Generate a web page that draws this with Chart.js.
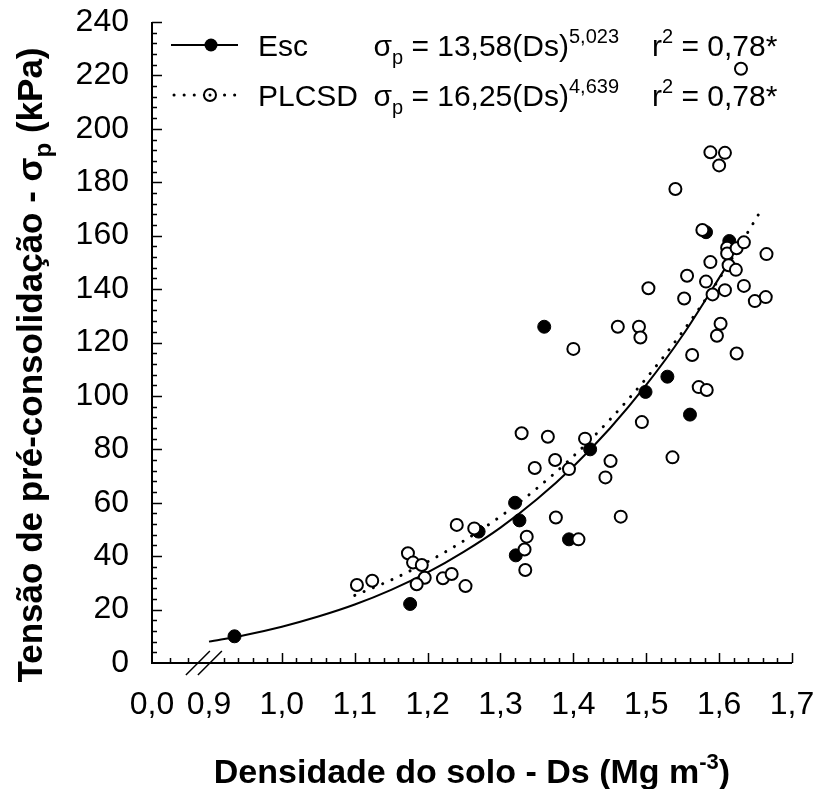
<!DOCTYPE html>
<html><head><meta charset="utf-8">
<script src="https://cdn.jsdelivr.net/npm/chart.js@4.4.1/dist/chart.umd.min.js"></script>
<style>html,body{margin:0;padding:0;background:#fff}</style>
</head><body>
<canvas id="c" width="819" height="789"></canvas>
<script>
const FONT = '"Liberation Sans", Arial, Helvetica, sans-serif';

// ---- Esc (filled circles) ----
const escDs = [0.935, 1.176, 1.270, 1.320, 1.326, 1.321, 1.360, 1.394, 1.423, 1.499, 1.529, 1.560, 1.582, 1.614];
const escSp = [10.0, 22.1, 49.2, 60.0, 53.4, 40.3, 125.9, 46.3, 80.0, 101.5, 107.2, 93.0, 161.3, 158.0];

// ---- PLCSD (open circles) ----
const plcDs = [1.103, 1.124, 1.173, 1.180, 1.192, 1.196, 1.185, 1.221, 1.233, 1.240, 1.252, 1.264,
  1.329, 1.334, 1.333, 1.336, 1.347, 1.365, 1.375, 1.376, 1.394, 1.400, 1.407, 1.416, 1.444, 1.451,
  1.461, 1.465, 1.490, 1.492, 1.494, 1.503, 1.536, 1.540, 1.552, 1.556, 1.563, 1.572, 1.577, 1.583,
  1.582, 1.588, 1.588, 1.591, 1.597, 1.600, 1.602, 1.608, 1.608, 1.611, 1.611, 1.613, 1.623, 1.624,
  1.624, 1.634, 1.634, 1.649, 1.665, 1.664, 1.630];
const plcSp = [29.2, 30.8, 41.1, 37.6, 36.7, 31.9, 29.5, 31.7, 33.3, 51.7, 28.8, 50.4,
  86.0, 34.8, 42.5, 47.3, 73.0, 84.7, 76.0, 54.5, 72.6, 117.6, 46.3, 84.0, 69.5, 75.6,
  125.9, 54.8, 125.9, 121.9, 90.2, 140.3, 77.0, 177.5, 136.5, 145.0, 115.3, 103.3, 162.1, 102.2,
  142.8, 191.2, 150.1, 138.0, 122.5, 186.3, 127.0, 191.0, 139.6, 155.5, 153.3, 148.9, 147.2, 155.3,
  115.9, 157.5, 141.2, 135.5, 153.1, 137.0, 222.5];

// ---- fitted curves ----
const escCurveDs = [0.90, 0.95, 1.00, 1.05, 1.10, 1.15, 1.20, 1.25, 1.30, 1.35, 1.40, 1.45, 1.50, 1.55, 1.61];
const escCurveSp = [8.0, 10.5, 13.6, 17.4, 21.9, 27.4, 33.9, 41.7, 50.7, 61.3, 73.6, 87.8, 104.1, 122.7, 148.5];
const plcCurveDs = [1.10, 1.15, 1.20, 1.25, 1.30, 1.35, 1.40, 1.45, 1.50, 1.55, 1.60, 1.66];
const plcCurveSp = [25.3, 31.1, 37.9, 45.8, 54.9, 65.4, 77.4, 91.1, 106.6, 124.1, 143.8, 170.6];

// ---- axes ----
const xAxisStart = 0.8218;          // broken axis: origin labelled 0,0
const xStartLabel = '0,0';
const xTickValues = [0.9, 1.0, 1.1, 1.2, 1.3, 1.4, 1.5, 1.6, 1.7];
const xTickLabels = ['0,9', '1,0', '1,1', '1,2', '1,3', '1,4', '1,5', '1,6', '1,7'];
const xMinorStep = 0.02;
const xBreakTicks = [0.8465, 0.8712];
const xBreakAt = 0.893;
const yTickValues = [0, 20, 40, 60, 80, 100, 120, 140, 160, 180, 200, 220, 240];
const yMinorStep = 4;

const legendRows = [
  {name: 'Esc', coef: '13,58', exp: '5,023', r2: '0,78*'},
  {name: 'PLCSD', coef: '16,25', exp: '4,639', r2: '0,78*'}
];

function pts(xs, ys) { return xs.map((x, i) => ({x: x, y: ys[i]})); }

function rich(ctx, segs, x, y, align, base, bold, small) {
  const w = bold ? 'bold ' : '';
  const info = segs.map(s => {
    const size = s.k === 'n' ? base : (small || Math.round(base * 0.68));
    const dy = s.k === 'sub' ? base * 0.26 : (s.k === 'sup' ? -base * 0.42 : 0);
    ctx.font = w + size + 'px ' + FONT;
    return {t: s.t, size: size, dy: dy, width: ctx.measureText(s.t).width};
  });
  const total = info.reduce((a, b) => a + b.width, 0);
  let cx = align === 'center' ? x - total / 2 : (align === 'right' ? x - total : x);
  ctx.textAlign = 'left';
  ctx.textBaseline = 'alphabetic';
  for (const s of info) {
    ctx.font = w + s.size + 'px ' + FONT;
    ctx.fillText(s.t, cx, y + s.dy);
    cx += s.width;
  }
  return total;
}

const decor = {
  id: 'decor',
  afterDraw(chart) {
    const ctx = chart.ctx, xs = chart.scales.x, ys = chart.scales.y;
    const x0 = xs.getPixelForValue(xAxisStart), y0 = ys.getPixelForValue(0);
    const xEnd = xs.getPixelForValue(xTickValues[xTickValues.length - 1]);
    const yTop = ys.getPixelForValue(yTickValues[yTickValues.length - 1]);
    ctx.save();
    ctx.strokeStyle = '#000'; ctx.fillStyle = '#000';
    // axis lines
    ctx.lineWidth = 2;
    ctx.beginPath();
    ctx.moveTo(x0, yTop); ctx.lineTo(x0, y0); ctx.lineTo(xEnd, y0);
    ctx.stroke();
    // x ticks (inward)
    ctx.lineWidth = 1.5;
    ctx.beginPath();
    for (let v = xTickValues[0] + xMinorStep; v < 1.7 + 1e-6; v += xMinorStep) {
      const isMajor = Math.abs(v * 10 - Math.round(v * 10)) < 1e-6;
      const px = Math.round(xs.getPixelForValue(v)) + 0.5;
      ctx.moveTo(px, y0); ctx.lineTo(px, y0 - (isMajor ? 10 : 5));
    }
    for (const v of xBreakTicks) {
      const px = Math.round(xs.getPixelForValue(v)) + 0.5;
      ctx.moveTo(px, y0); ctx.lineTo(px, y0 - 5);
    }
    // y ticks (inward)
    for (let v = yMinorStep; v <= 240; v += yMinorStep) {
      const isMajor = v % 20 === 0;
      const py = Math.round(ys.getPixelForValue(v)) + 0.5;
      ctx.moveTo(x0, py); ctx.lineTo(x0 + (isMajor ? 10 : 5), py);
    }
    ctx.stroke();
    // axis break marks
    const bx = xs.getPixelForValue(xBreakAt);
    ctx.lineWidth = 1.5;
    ctx.beginPath();
    for (const off of [-6, 6]) {
      ctx.moveTo(bx + off - 12, y0 + 12);
      ctx.lineTo(bx + off + 12, y0 - 12);
    }
    ctx.stroke();

    // axis titles
    const ca = chart.chartArea;
    rich(ctx, [{t: 'Densidade do solo - Ds (Mg m', k: 'n'}, {t: '-3', k: 'sup'}, {t: ')', k: 'n'}],
      (ca.left + ca.right) / 2, 783, 'center', 34, true, 22);
    ctx.save();
    ctx.translate(42, 365);
    ctx.rotate(-Math.PI / 2);
    rich(ctx, [{t: 'Tensão de pré-consolidação - σ', k: 'n'}, {t: 'p', k: 'sub'}, {t: ' (kPa)', k: 'n'}],
      0, 0, 'center', 35, true, 24);
    ctx.restore();

    // legend
    const rowsY = [45, 95];
    legendRows.forEach((r, i) => {
      const my = rowsY[i];
      ctx.lineWidth = 2;
      ctx.strokeStyle = '#000';
      if (i === 0) {
        ctx.setLineDash([]);
        ctx.beginPath(); ctx.moveTo(171, my); ctx.lineTo(238, my); ctx.stroke();
        ctx.beginPath(); ctx.arc(211, my, 6.5, 0, Math.PI * 2); ctx.fill();
      } else {
        ctx.setLineDash([0.1, 10]); ctx.lineCap = 'round'; ctx.lineWidth = 3;
        ctx.beginPath(); ctx.moveTo(174, my); ctx.lineTo(238, my); ctx.stroke();
        ctx.setLineDash([]); ctx.lineCap = 'butt'; ctx.lineWidth = 2;
        ctx.beginPath(); ctx.arc(210, my, 6, 0, Math.PI * 2);
        ctx.fillStyle = '#fff'; ctx.fill(); ctx.stroke(); ctx.fillStyle = '#000';
        ctx.beginPath(); ctx.arc(210, my, 1.5, 0, Math.PI * 2); ctx.fill();
      }
      const base = my + 11;
      rich(ctx, [{t: r.name, k: 'n'}], 258, base, 'left', 30, false);
      rich(ctx, [{t: 'σ', k: 'n'}, {t: 'p', k: 'sub'}, {t: ' = ' + r.coef + '(Ds)', k: 'n'}, {t: r.exp, k: 'sup'}],
        619, base, 'right', 30, false, 20);
      rich(ctx, [{t: 'r', k: 'n'}, {t: '2', k: 'sup'}, {t: ' = ' + r.r2, k: 'n'}], 652, base, 'left', 30, false, 20);
    });
    ctx.restore();
  }
};

new Chart(document.getElementById('c'), {
  type: 'scatter',
  data: {
    datasets: [
      {label: 'PLCSD', data: pts(plcDs, plcSp), pointStyle: 'circle', pointRadius: 6, pointBorderWidth: 2,
       pointBackgroundColor: '#fff', pointBorderColor: '#000'},
      {label: 'Esc', data: pts(escDs, escSp), pointStyle: 'circle', pointRadius: 6.5, pointBorderWidth: 1,
       pointBackgroundColor: '#000', pointBorderColor: '#000'},
      {label: 'fit PLCSD', data: pts(plcCurveDs, plcCurveSp), showLine: true, pointRadius: 0,
       borderColor: '#000', borderWidth: 3, borderDash: [0.1, 10], borderCapStyle: 'round',
       cubicInterpolationMode: 'monotone'},
      {label: 'fit Esc', data: pts(escCurveDs, escCurveSp), showLine: true, pointRadius: 0,
       borderColor: '#000', borderWidth: 2, cubicInterpolationMode: 'monotone'}
    ]
  },
  options: {
    responsive: false, animation: false, devicePixelRatio: 1,
    layout: {padding: {left: 0, right: 27, top: 22, bottom: 0}},
    plugins: {legend: {display: false}, tooltip: {enabled: false}},
    scales: {
      x: {
        type: 'linear', min: xAxisStart, max: 1.7,
        afterBuildTicks: s => { s.ticks = [xAxisStart].concat(xTickValues).map(v => ({value: v})); },
        afterFit: s => { s.height = 126; s.paddingLeft = 0; s.paddingRight = 0; },
        ticks: {
          autoSkip: false, maxRotation: 0, padding: 15, color: '#000',
          font: {family: FONT, size: 32},
          callback: (v, i) => i === 0 ? xStartLabel : xTickLabels[i - 1]
        },
        grid: {display: false}, border: {display: false}
      },
      y: {
        min: 0, max: 240,
        afterBuildTicks: s => { s.ticks = yTickValues.map(v => ({value: v})); },
        afterFit: s => { s.width = 152; s.paddingTop = 0; s.paddingBottom = 0; },
        ticks: {padding: 15, color: '#000', font: {family: FONT, size: 32}, callback: v => String(v)},
        grid: {display: false}, border: {display: false}
      }
    }
  },
  plugins: [decor]
});
</script>
</body></html>
